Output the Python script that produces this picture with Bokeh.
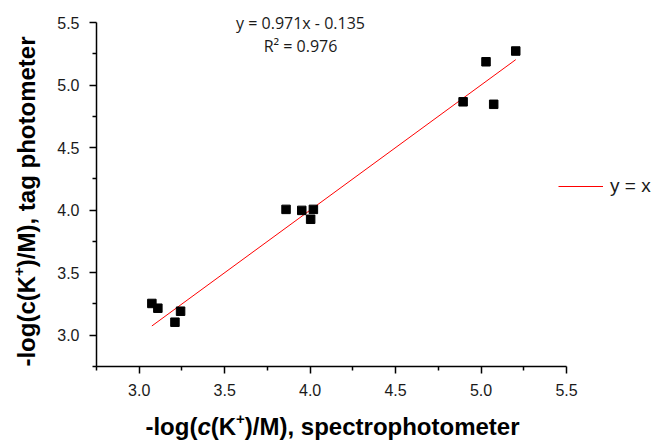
import math
from bokeh.plotting import figure
from bokeh.models import Label, FixedTicker, Range1d, Legend, LegendItem
from bokeh.embed import file_html
from bokeh.resources import INLINE

# ---- data ----
x_vals = [3.074, 3.109, 3.209, 3.242, 3.859, 3.951, 4.019, 4.003, 4.895, 5.029, 5.074, 5.203]
y_vals = [3.254, 3.216, 3.104, 3.192, 4.006, 3.998, 4.006, 3.927, 4.866, 5.186, 4.846, 5.272]
x_ticks = [3.0, 3.5, 4.0, 4.5, 5.0, 5.5]
x_tick_labels = ["3.0", "3.5", "4.0", "4.5", "5.0", "5.5"]
y_ticks = [3.0, 3.5, 4.0, 4.5, 5.0, 5.5]
y_tick_labels = ["3.0", "3.5", "4.0", "4.5", "5.0", "5.5"]
minor_ticks = [2.75, 3.25, 3.75, 4.25, 4.75, 5.25]
axis_min, axis_max = 2.75, 5.5
fit_text = "y = 0.971x - 0.135"
r2_text = "R\u00b2 = 0.976"
legend_text = "y = x"
x_title_parts = [("-log(", "bold"), ("c", "bold italic"), ("(K", "bold"), ("+", "sup"),
                 (")/M), spectrophotometer", "bold")]
y_title_parts = [("-log(c(K", "bold"), ("+", "sup"), (")/M), tag photometer", "bold")]

# Arial/Liberation Sans Bold advance widths (per 1000 em)
AW = {'-': 333, 'l': 278, 'o': 611, 'g': 611, '(': 333, 'c': 556, 'K': 722, '+': 584,
      ')': 333, '/': 278, 'M': 833, ',': 278, ' ': 278, 's': 556, 'p': 611, 'e': 556,
      'r': 389, 't': 333, 'h': 611, 'm': 889, 'a': 556}

W, H = 655, 441
# axes box (pixels) inside the canvas
AX_L, AX_R, AX_T, AX_B = 96, 566, 22, 366
sx = (AX_R - AX_L) / (axis_max - axis_min)
sy = (AX_B - AX_T) / (axis_max - axis_min)
xr = Range1d(axis_min - AX_L / sx, axis_max + (W - AX_R) / sx)
yr = Range1d(axis_min - (H - AX_B) / sy, axis_max + AX_T / sy)

p = figure(width=W, height=H, output_backend="svg", toolbar_location=None,
           x_range=xr, y_range=yr,
           min_border_left=0, min_border_right=0, min_border_top=0, min_border_bottom=0)
p.grid.visible = False
p.outline_line_color = None
p.background_fill_color = "white"
p.border_fill_color = "white"

for ax, ticks, labels in ((p.xaxis[0], x_ticks, x_tick_labels), (p.yaxis[0], y_ticks, y_tick_labels)):
    ax.fixed_location = axis_min
    ax.bounds = (axis_min, axis_max)
    ax.ticker = FixedTicker(ticks=ticks, minor_ticks=minor_ticks)
    ax.major_label_overrides = {t: l for t, l in zip(ticks, labels)}
    ax.axis_line_color = "black"
    ax.axis_line_width = 1.5
    ax.major_tick_line_width = 1.5
    ax.minor_tick_line_width = 1.5
    ax.major_tick_line_color = "black"
    ax.minor_tick_line_color = "black"
    ax.major_tick_out = 7
    ax.major_tick_in = 0
    ax.minor_tick_out = 4
    ax.minor_tick_in = 0
    ax.major_label_standoff = 10
    ax.major_label_text_font = "Liberation Sans"
    ax.major_label_text_font_size = "16px"
    ax.major_label_text_color = "#1a1a1a"

# y = x reference line across the data range
lx = [min(x_vals), max(x_vals)]
line_r = p.line(lx, lx, line_color="#ff0000", line_width=1)
p.scatter(x_vals, y_vals, marker="square", size=8.5, fill_color="black", line_color="black")

legend = Legend(items=[LegendItem(label=legend_text, renderers=[line_r])],
                location=(558, H - 197.3), padding=0, margin=0, spacing=0,
                glyph_width=45, glyph_height=20, label_standoff=7,
                label_text_font="Liberation Sans", label_text_font_size="19px",
                label_text_color="#1a1a1a",
                border_line_alpha=0, background_fill_alpha=0)
p.add_layout(legend)

# regression text
for txt, yy in ((fit_text, H - 22.5), (r2_text, H - 45)):
    p.add_layout(Label(x=300, y=yy, x_units="screen", y_units="screen", text=txt,
                       text_align="center", text_baseline="alphabetic",
                       text_font="Open Sans", text_font_size="16px", text_color="#1a1a1a"))

TS = 24  # title font size
SUP = 15
RAISE = 8


def part_width(txt, style):
    size = SUP if style == "sup" else TS
    return sum(AW.get(ch, 556) for ch in txt) * size / 1000.0


def add_title(parts, horizontal, start, base):
    pos = start
    for txt, style in parts:
        size = SUP if style == "sup" else TS
        fstyle = "bold" if style == "sup" else style
        off = RAISE if style == "sup" else 0
        if horizontal:
            kw = dict(x=pos, y=base + off, angle=0)
        else:
            kw = dict(x=base - off, y=pos, angle=math.pi / 2)
        p.add_layout(Label(x_units="screen", y_units="screen", text=txt,
                           text_align="left", text_baseline="alphabetic",
                           text_font="Liberation Sans", text_font_size=f"{size}px",
                           text_font_style=fstyle, text_color="black", **kw))
        pos += part_width(txt, style)


xw = sum(part_width(t, s) for t, s in x_title_parts)
add_title(x_title_parts, True, 332 - xw / 2, H - 435 + 9)
yw = sum(part_width(t, s) for t, s in y_title_parts)
add_title(y_title_parts, False, (H - 201) - yw / 2, 37 - 11)

open("out.html", "w").write(file_html(p, INLINE))
